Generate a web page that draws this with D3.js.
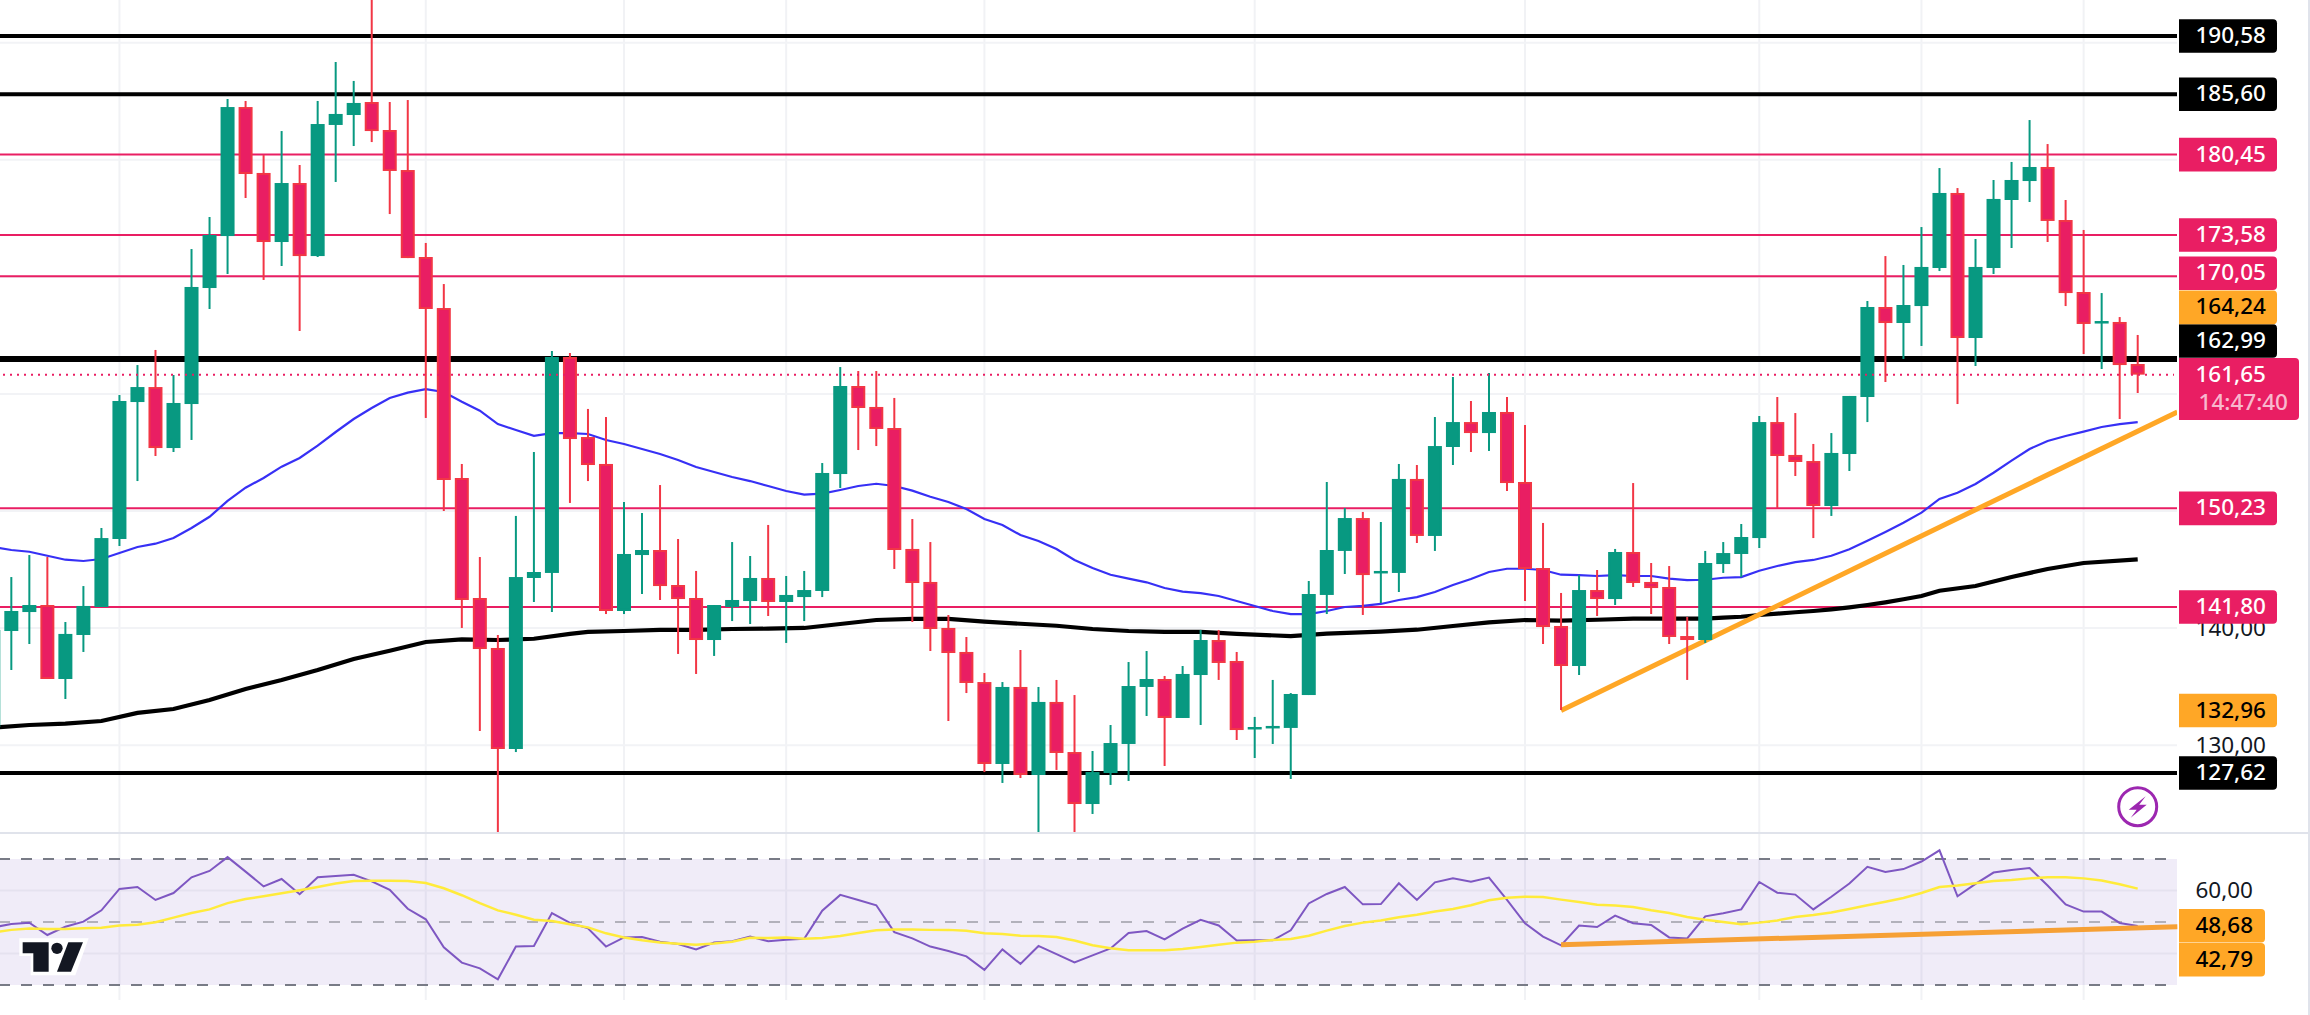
<!DOCTYPE html>
<html>
<head>
<meta charset="utf-8">
<script src="https://cdn.jsdelivr.net/npm/d3@7"></script>
<style>
  html, body { margin: 0; padding: 0; background: #fff; }
  svg { display: block; font-family: "Noto Sans", sans-serif; }
</style>
</head>
<body>
<script>
// daily candles
var opens = [131.55,139.75,141.37,141.97,135.65,139.41,141.80,147.61,159.31,160.59,
  155.38,159.14,169.05,173.49,184.51,178.88,172.98,178.02,171.78,182.98,
  183.83,184.94,182.55,179.13,171.70,167.34,152.82,142.57,138.30,129.67,
  144.28,144.71,163.16,156.32,154.02,141.46,146.24,146.67,143.68,142.57,
  138.98,141.80,142.31,144.28,142.23,142.65,143.17,153.16,160.68,158.89,
  157.09,146.76,143.94,140.01,137.96,135.39,128.39,134.97,127.45,133.69,
  129.41,124.97,127.62,130.10,134.97,135.65,132.32,135.99,138.98,137.19,
  131.38,131.47,131.47,134.28,142.83,146.59,149.40,144.71,144.71,152.74,
  147.87,155.47,157.60,156.66,158.46,152.48,145.13,140.18,136.76,143.25,
  142.48,146.50,143.94,143.51,139.32,138.98,145.47,146.33,147.69,157.60,
  154.79,154.27,150.43,154.87,159.74,167.43,166.06,167.51,170.76,177.17,
  164.78,170.76,176.57,178.19,179.39,174.86,168.71,166.10,166.15,162.56];
var highs = [139.84,144.36,146.24,146.07,140.52,143.59,148.55,159.91,162.47,163.76,
  161.62,172.38,175.12,185.20,185.03,180.41,182.46,179.56,185.03,188.36,
  186.74,195.00,184.94,185.11,172.90,169.39,154.02,146.07,139.41,149.58,
  155.04,163.67,163.50,158.72,158.03,150.77,149.83,152.22,147.61,144.88,
  141.97,147.35,146.16,148.81,144.45,144.88,154.10,162.30,161.96,161.96,
  159.66,149.32,147.35,141.12,139.24,136.16,135.39,138.13,134.97,135.57,
  134.28,129.50,131.72,137.10,138.04,135.91,136.76,139.84,139.84,137.96,
  132.41,135.57,134.45,144.02,152.48,150.26,149.92,149.06,154.02,153.93,
  158.03,161.45,159.40,161.79,159.74,157.35,148.98,143.00,144.53,144.96,
  146.76,152.39,145.56,145.30,140.95,146.59,147.35,148.89,158.12,159.74,
  158.37,155.73,156.66,159.83,167.94,171.78,171.02,174.26,179.30,177.59,
  173.24,178.28,179.82,183.40,181.35,176.57,174.01,168.62,166.57,165.04];
var lows = [131.55,136.42,138.64,135.65,133.94,137.96,141.80,147.01,152.56,154.70,
  155.04,156.07,167.26,170.25,176.74,169.74,170.93,165.38,171.70,178.11,
  181.18,181.52,175.37,171.61,157.95,150.00,140.01,131.21,122.58,129.41,
  142.23,141.37,150.69,152.56,141.20,141.20,142.91,142.40,137.79,136.08,
  137.62,140.60,140.35,141.03,138.73,140.60,142.65,151.97,155.21,155.55,
  145.05,140.52,138.04,132.06,134.45,127.70,126.77,127.19,122.58,127.88,
  122.58,124.12,126.60,126.94,132.49,128.22,132.32,131.72,135.57,130.44,
  128.90,130.10,127.11,134.28,141.20,144.62,141.12,142.14,143.08,147.27,
  146.59,153.93,155.04,155.13,151.71,142.31,138.64,133.00,135.99,141.03,
  141.97,143.51,141.20,138.64,135.57,138.73,144.71,144.36,146.84,150.26,
  152.99,147.69,149.58,153.42,157.60,161.02,162.99,164.10,170.50,159.14,
  162.39,170.25,172.47,176.40,172.98,167.51,163.41,162.13,157.86,160.08];
var closes = [139.84,141.46,141.97,135.65,139.50,141.89,147.69,159.40,160.59,155.38,
  159.23,169.14,173.58,184.51,178.79,172.98,178.02,171.78,183.06,183.92,
  184.86,182.46,179.05,171.61,167.26,152.65,142.40,138.21,129.67,144.36,
  144.79,163.16,156.15,153.93,141.46,146.33,146.67,143.59,142.48,138.98,
  141.97,142.40,144.28,142.23,142.83,143.25,153.25,160.68,158.80,157.01,
  146.67,143.85,139.92,137.87,135.31,128.39,134.97,127.45,133.69,129.33,
  124.97,127.70,130.18,135.05,135.65,132.32,136.08,138.98,137.02,131.29,
  131.55,131.64,134.37,142.91,146.67,149.40,144.53,144.88,152.74,147.87,
  155.55,157.60,156.66,158.46,152.39,145.05,140.09,136.76,143.25,142.48,
  146.50,143.85,143.42,139.24,138.98,145.56,146.41,147.78,157.60,154.70,
  154.19,150.43,154.96,159.83,167.43,166.06,167.60,170.85,177.17,164.78,
  170.85,176.66,178.28,179.39,174.78,168.62,165.98,166.23,162.47,161.65];

// moving averages
var ma50 = [146.93,146.67,146.52,146.18,145.84,145.73,145.90,146.41,146.93,147.21,
  147.69,148.55,149.51,150.86,151.99,152.82,153.79,154.53,155.58,156.75,
  157.86,158.80,159.66,160.11,160.42,160.17,159.34,158.57,157.43,156.92,
  156.43,156.66,156.66,156.58,156.07,155.73,155.30,154.87,154.36,153.76,
  153.33,152.91,152.56,152.14,151.71,151.40,151.48,151.80,152.14,152.33,
  152.14,151.74,151.22,150.77,150.17,149.32,148.81,147.95,147.44,146.76,
  145.82,145.13,144.56,144.22,143.91,143.42,143.11,142.99,142.74,142.31,
  141.89,141.46,141.20,141.20,141.46,141.80,141.89,142.06,142.40,142.65,
  143.08,143.68,144.19,144.79,145.07,145.07,144.96,144.56,144.53,144.45,
  144.53,144.45,144.45,144.22,144.10,144.13,144.30,144.36,144.90,145.30,
  145.64,145.82,146.18,146.73,147.46,148.21,149.00,149.86,151.03,151.56,
  152.31,153.27,154.30,155.30,155.98,156.41,156.78,157.18,157.43,157.60];
var ma200Idx = [0,2,4,6,8,10,12,14,16,18,20,22,24,26,28,30,32,33,35,37,39,41,43,45,46,47,49,51,53,55,57,59,61,63,65,67,69,72,74,77,79,81,83,85,87,89,91,93,95,96,97,98,99,100,101,102,103,104,105,106,107,108,110,112,114,116,119];
var ma200 = [131.49,131.72,131.83,132.06,132.75,133.09,133.86,134.80,135.57,136.42,137.36,138.07,138.81,139.04,138.98,139.09,139.50,139.67,139.75,139.84,139.84,139.92,139.95,140.01,140.18,140.35,140.69,140.78,140.78,140.55,140.37,140.20,139.92,139.75,139.67,139.67,139.50,139.32,139.52,139.69,139.86,140.18,140.49,140.69,140.63,140.71,140.80,140.80,140.80,140.90,140.97,141.12,141.23,141.35,141.46,141.60,141.77,141.97,142.20,142.46,142.74,143.19,143.59,144.36,145.05,145.56,145.87];

// RSI pane
var rsi = [48.3,49.36,49.79,45.87,48.52,50.1,53.7,60.5,61.1,57.0,59.2,64.2,66.2,70.6,66.0,61.3,63.65,58.8,64.2,64.6,
  65.0,62.9,60.2,54.2,50.85,41.96,37.1,35.3,31.8,42.2,42.4,52.85,49.7,48.0,42.2,45.1,45.2,43.75,43.0,41.3,
  43.5,43.9,45.35,43.9,44.4,44.7,53.6,58.6,57.0,55.3,46.8,44.8,42.2,40.8,39.1,34.8,41.3,36.7,42.4,39.8,
  37.2,39.4,41.6,46.5,47.15,44.5,47.9,50.7,48.9,44.1,44.2,44.2,47.35,55.9,58.9,61.1,55.6,55.7,62.3,57.0,
  62.6,63.9,62.8,64.1,57.0,49.6,45.35,42.6,48.9,48.4,52.0,49.6,49.05,45.1,44.8,51.8,52.75,54.0,62.7,59.3,
  58.7,54.0,58.0,62.2,67.5,65.9,66.8,69.2,72.75,58.15,62.1,65.7,66.5,67.15,61.6,55.6,53.3,53.3,49.7,48.7];
var rsiMa = [46.7,47.5,47.9,47.8,47.8,48.0,48.2,48.9,49.15,49.9,51.4,52.85,54.0,56.0,57.3,58.15,59.1,60.05,61.1,62.2,
  63.0,63.1,63.1,63.0,62.4,60.7,58.5,56.0,53.7,52.3,50.7,50.3,49.3,48.3,46.4,45.1,44.2,43.5,43.1,42.8,
  43.2,43.75,45.0,44.9,45.1,44.7,44.9,45.55,46.5,47.35,47.6,47.6,47.5,47.5,47.2,46.4,46.2,45.65,45.55,45.25,
  44.1,42.6,41.65,41.0,41.0,41.0,41.4,42.05,42.8,43.45,43.75,44.3,44.6,45.65,47.25,48.7,49.8,50.5,51.5,52.3,
  53.3,54.1,55.3,56.9,57.7,58.0,57.95,57.1,56.35,55.5,55.2,54.75,53.7,52.85,51.6,50.7,50.0,49.3,49.8,50.5,
  51.6,52.2,53.0,54.1,55.3,56.45,57.6,59.2,61.1,61.6,62.3,63.0,63.3,63.85,64.2,64.2,63.85,63.2,62.0,60.6];

// levels and trendlines
var blackLevels = [190.58, 185.60, 162.99, 127.62];
var pinkLevels = [180.45, 173.58, 170.05, 150.23, 141.80];
var lastPrice = 161.65;
var countdown = '14:47:40';
var trendIdx = [87, 121.2];
var trendPrice = [132.96, 158.46];
var trendLabels = [164.24, 132.96];
var rsiTrend = [42.79, 48.5];
var rsiTrendLabels = [48.68, 42.79];
var priceTicks = [140, 130];
var priceGrid = [190, 180, 170, 160, 150, 140, 130];
var rsiTicks = [60];
var rsiGrid = [60, 40];
var timeGrid = [7, 24, 35, 44, 55, 70, 85, 98, 107, 116];

var W = 2310, H = 1015, plotR = 2177, sep = 833;
var green = '#089981', redWick = '#f23645', redFill = '#e91e63', pink = '#e91e63', orange = '#ffa726';

var x = d3.scaleLinear().domain([0, 119]).range([-6.7, 2137.7]);
var y = d3.scaleLinear().domain([127.62, 190.58]).range([773, 36]);
var r = d3.scaleLinear().domain([30, 70]).range([985, 859]);
var fmt = d3.formatLocale({decimal: ',', thousands: '.', grouping: [3], currency: ['', '']}).format('.2f');

var svg = d3.select('body').append('svg').attr('width', W).attr('height', H);
svg.append('rect').attr('width', W).attr('height', H).attr('fill', '#fff');
svg.append('clipPath').attr('id', 'mainClip').append('rect').attr('width', plotR).attr('height', sep);

// grid
svg.append('g').selectAll('line').data(timeGrid).join('line')
  .attr('x1', function(d) { return x(d); }).attr('x2', function(d) { return x(d); })
  .attr('y1', 0).attr('y2', 1000)
  .attr('stroke', '#f1f2f5').attr('stroke-width', 2);
svg.append('g').selectAll('line').data(priceGrid).join('line')
  .attr('x1', 0).attr('x2', plotR)
  .attr('y1', function(d) { return y(d); }).attr('y2', function(d) { return y(d); })
  .attr('stroke', '#f2f3f6').attr('stroke-width', 2);

// pane separator + right border
svg.append('line').attr('x1', 0).attr('x2', W).attr('y1', sep).attr('y2', sep)
  .attr('stroke', '#e0e3eb').attr('stroke-width', 2);
svg.append('line').attr('x1', W - 1).attr('x2', W - 1).attr('y1', 0).attr('y2', H)
  .attr('stroke', '#e0e3eb').attr('stroke-width', 2);

// main pane
var main = svg.append('g').attr('clip-path', 'url(#mainClip)');
var line = d3.line().x(function(d) { return x(d[0]); }).y(function(d) { return y(d[1]); });

main.selectAll('line.black').data(blackLevels).join('line').attr('class', 'black')
  .attr('x1', 0).attr('x2', plotR)
  .attr('y1', function(d) { return y(d); }).attr('y2', function(d) { return y(d); })
  .attr('stroke', '#000')
  .attr('stroke-width', function(d) { return d === 162.99 ? 6 : 4; });
main.selectAll('line.pink').data(pinkLevels).join('line').attr('class', 'pink')
  .attr('x1', 0).attr('x2', plotR)
  .attr('y1', function(d) { return y(d); }).attr('y2', function(d) { return y(d); })
  .attr('stroke', pink).attr('stroke-width', 2);

main.append('path').attr('d', line(d3.zip(ma200Idx, ma200)))
  .attr('fill', 'none').attr('stroke', '#000').attr('stroke-width', 4.2);
main.append('path').attr('d', line(ma50.map(function(d, i) { return [i, d]; })))
  .attr('fill', 'none').attr('stroke', '#3730f5').attr('stroke-width', 2.2);
main.append('path').attr('d', line(d3.zip(trendIdx, trendPrice)))
  .attr('fill', 'none').attr('stroke', orange).attr('stroke-width', 5);

// candles
var bodyW = 14;
var candles = d3.range(opens.length);
var isUp = function(i) { return closes[i] >= opens[i]; };
main.append('g').selectAll('line').data(candles).join('line')
  .attr('x1', function(i) { return x(i); }).attr('x2', function(i) { return x(i); })
  .attr('y1', function(i) { return y(highs[i]); }).attr('y2', function(i) { return y(lows[i]); })
  .attr('stroke', function(i) { return isUp(i) ? green : redWick; })
  .attr('stroke-width', 2);
main.append('g').selectAll('rect').data(candles).join('rect')
  .attr('x', function(i) { return x(i) - bodyW / 2 + 1; })
  .attr('width', bodyW - 2)
  .attr('y', function(i) { return y(Math.max(opens[i], closes[i])) + 1; })
  .attr('height', function(i) { return Math.max(Math.abs(y(opens[i]) - y(closes[i])) - 2, 0.5); })
  .attr('fill', function(i) { return isUp(i) ? green : redFill; })
  .attr('stroke', function(i) { return isUp(i) ? green : redWick; })
  .attr('stroke-width', 2);

// last price dotted line
main.append('line').attr('x1', 3).attr('x2', plotR - 3)
  .attr('y1', y(lastPrice)).attr('y2', y(lastPrice))
  .attr('stroke', pink).attr('stroke-width', 2).attr('stroke-dasharray', '2 5');

// RSI pane
svg.append('rect').attr('x', 0).attr('width', plotR)
  .attr('y', r(70)).attr('height', r(30) - r(70))
  .attr('fill', '#7e57c2').attr('fill-opacity', 0.115);
svg.append('g').selectAll('line').data(rsiGrid).join('line')
  .attr('x1', 0).attr('x2', plotR)
  .attr('y1', function(d) { return r(d); }).attr('y2', function(d) { return r(d); })
  .attr('stroke', '#e5e2ef').attr('stroke-width', 2);
svg.append('g').selectAll('line').data([70, 50, 30]).join('line')
  .attr('x1', 0).attr('x2', 2167)
  .attr('y1', function(d) { return r(d); }).attr('y2', function(d) { return r(d); })
  .attr('stroke', function(d) { return d === 50 ? '#b2b1bb' : '#787b86'; })
  .attr('stroke-width', 2).attr('stroke-dasharray', '11 11').attr('stroke-dashoffset', 1);

var rline = d3.line().x(function(d) { return x(d[0]); }).y(function(d) { return r(d[1]); });
var rsiPane = svg.append('g');
rsiPane.append('path').attr('d', rline(rsi.map(function(d, i) { return [i, d]; })))
  .attr('fill', 'none').attr('stroke', '#7e57c2').attr('stroke-width', 2);
rsiPane.append('path').attr('d', rline(rsiMa.map(function(d, i) { return [i, d]; })))
  .attr('fill', 'none').attr('stroke', '#ffeb3b').attr('stroke-width', 2.5);
rsiPane.append('path').attr('d', rline(d3.zip(trendIdx, rsiTrend)))
  .attr('fill', 'none').attr('stroke', '#f6a035').attr('stroke-width', 5);

// axes
var axisTxt = '#131722', txtWeight = 500;
var yAxis = svg.append('g').attr('transform', 'translate(2266,0)')
  .call(d3.axisRight(y).tickValues(priceTicks).tickSize(0).tickPadding(0).tickFormat(fmt));
var rAxis = svg.append('g').attr('transform', 'translate(2253,0)')
  .call(d3.axisRight(r).tickValues(rsiTicks).tickSize(0).tickPadding(0).tickFormat(fmt));
[yAxis, rAxis].forEach(function(a) {
  a.select('.domain').remove();
  a.selectAll('text').attr('text-anchor', 'end').attr('font-family', '"Noto Sans", sans-serif')
    .attr('font-size', 22.5).attr('font-weight', 400).attr('fill', axisTxt);
});

// right side labels
function tag(cy, h, w, fill) {
  var x0 = 2179, top = cy - h / 2, rad = 4;
  svg.append('path')
    .attr('d', 'M' + x0 + ',' + top + 'H' + (x0 + w - rad) + 'Q' + (x0 + w) + ',' + top + ' ' + (x0 + w) + ',' + (top + rad) +
      'V' + (top + h - rad) + 'Q' + (x0 + w) + ',' + (top + h) + ' ' + (x0 + w - rad) + ',' + (top + h) + 'H' + x0 + 'Z')
    .attr('fill', fill);
}
function label(txt, tx, cy, col, op) {
  svg.append('text').attr('x', tx).attr('y', cy).attr('dy', '.36em')
    .attr('text-anchor', 'end').attr('font-size', 22.5).attr('font-weight', txtWeight)
    .attr('fill', col).attr('fill-opacity', op || 1).text(txt);
}
var nudge = {'170.05': -3, '164.24': -37, '162.99': -18};
function priceTag(v, fill, col) {
  var cy = y(v) + (nudge[v] || 0);
  tag(cy, 33.6, 98, fill);
  label(fmt(v), 2266, cy - 1, col);
}
pinkLevels.forEach(function(v) { priceTag(v, pink, '#fff'); });
blackLevels.forEach(function(v) { priceTag(v, '#000', '#fff'); });
trendLabels.forEach(function(v) { priceTag(v, orange, '#000'); });

// last price + countdown
var lastY = 389;
tag(lastY, 62, 120, pink);
label(fmt(lastPrice), 2266, 374, '#fff');
label(countdown, 2288, 401.5, '#fff', 0.7);

// RSI trend labels
rsiTrendLabels.forEach(function(v, i) {
  var cy = i === 0 ? 925.8 : 959.8;
  tag(cy, 33.6, 86, orange);
  label(fmt(v), 2253, cy - 1, '#000');
});

// flash icon
var icon = svg.append('g').attr('transform', 'translate(2137.7,806.7)');
icon.append('circle').attr('r', 19).attr('fill', '#fff').attr('stroke', '#9c27b0').attr('stroke-width', 3);
icon.append('path').attr('d', 'M8,-10.5L-9,3H-1L-7,11L9,-2H1.5Z').attr('fill', '#9c27b0');

// logo
var logo = svg.append('g').attr('transform', 'translate(0,920) scale(0.3333)');
logo.append('path').attr('d', 'M58,55H266L226,166H92V108H58Z').attr('fill', '#fff');
logo.append('path').attr('d', 'M68,67H146V155H100V100H68Z').attr('fill', '#131722');
logo.append('circle').attr('cx', 171).attr('cy', 85).attr('r', 17).attr('fill', '#131722');
logo.append('path').attr('d', 'M205,67H249L213,155H171Z').attr('fill', '#131722');
</script>
</body>
</html>
